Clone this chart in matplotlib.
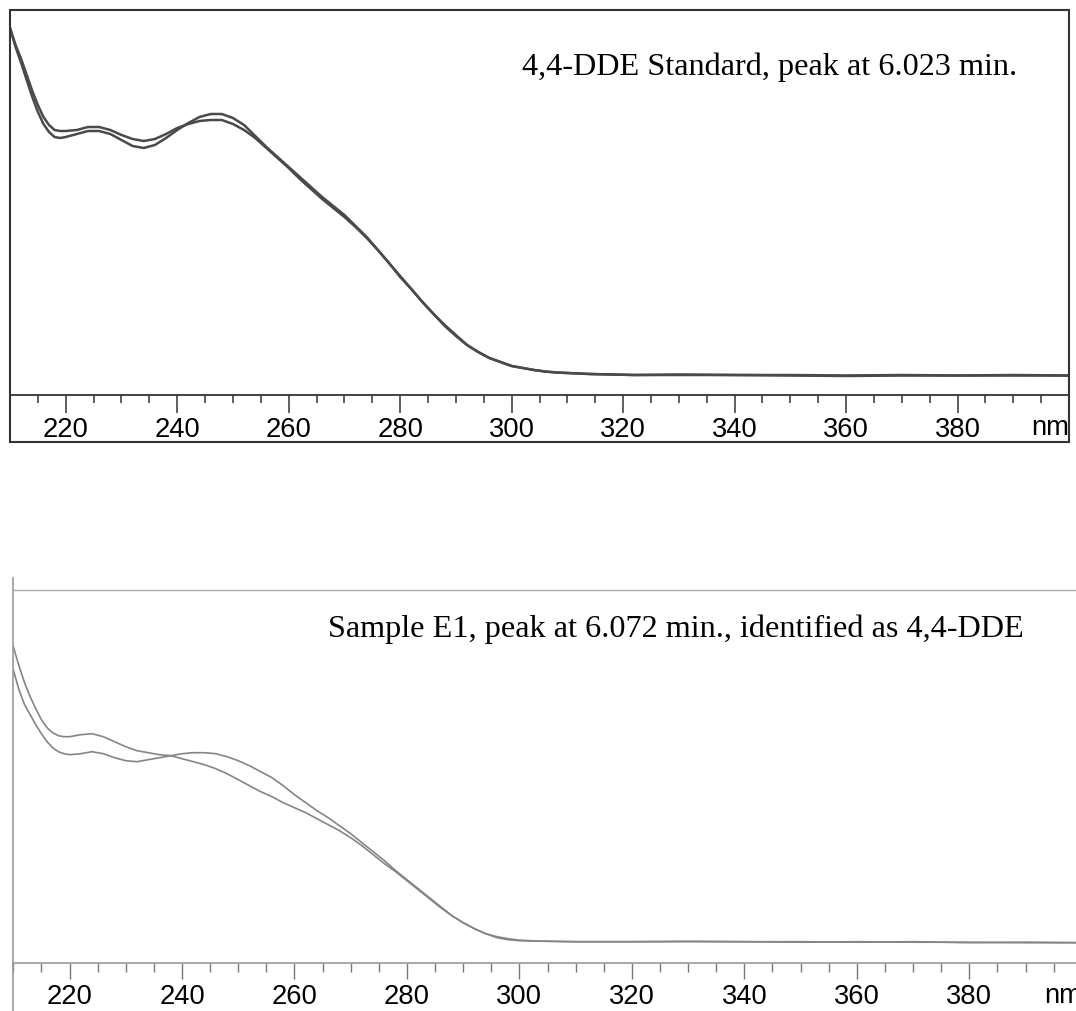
import matplotlib
matplotlib.use("Agg")
import matplotlib.pyplot as plt
from matplotlib.patches import Rectangle
from matplotlib.lines import Line2D
from matplotlib.ticker import MultipleLocator

# ---------------- data ----------------
std_wl = [210, 211, 212, 213, 214, 215, 216, 217, 218, 219, 220, 222, 224, 226, 228, 230,
          232, 234, 236, 238, 240, 242, 244, 246, 248, 250, 252, 254, 256, 258, 260, 262,
          264, 266, 268, 270, 272, 274, 276, 278, 280, 282, 284, 286, 288, 290, 292, 294,
          296, 298, 300, 302, 304, 306, 308, 310, 314, 318, 322, 330, 340, 350, 360, 370,
          380, 390, 400]
std_a = [367, 348, 332, 315, 298, 283, 271, 263, 258, 257, 258, 261, 264, 264, 261, 255,
         249, 247, 250, 257, 265, 272, 278, 281, 281, 277, 270, 259, 248, 238, 228, 218,
         208, 198, 189, 180, 169, 158, 145, 132, 118, 106, 93, 81, 70, 60, 50, 43,
         37, 33, 29, 27, 25, 23.5, 22.5, 22, 21, 20.5, 20, 20, 20, 19.5, 19, 19.5,
         19.5, 19.5, 19.5]
std_b = [367, 350, 336, 320, 304, 290, 278, 270, 265, 264, 264, 265, 268, 268, 265, 260,
         256, 254, 256, 261, 267, 271, 274, 275, 275, 271, 265, 257, 247, 237, 227, 216,
         206, 196, 187, 178, 168, 157, 145, 132, 119, 106, 93, 81, 69, 59, 50, 43,
         37, 33, 29, 27, 25, 23.5, 22.5, 22, 21, 20.5, 20, 20.5, 20, 20, 19.5, 20,
         19.5, 20, 19.5]

smp_wl = [210, 211, 212, 213, 214, 215, 216, 217, 218, 219, 220, 222, 224, 226, 228, 230,
          232, 234, 236, 238, 240, 242, 244, 246, 248, 250, 252, 254, 256, 258, 260, 262,
          264, 266, 268, 270, 272, 274, 276, 278, 280, 282, 284, 286, 288, 290, 292, 294,
          296, 298, 300, 304, 310, 320, 330, 340, 350, 360, 370, 380, 390, 400]
smp_c = [316, 297, 280, 266, 254, 243, 235, 230, 227, 226, 226, 228, 229, 226, 221, 216,
         212, 210, 208, 207, 204, 201, 198, 194, 189, 183, 177, 171, 166, 160, 155, 150,
         144, 138, 132, 125, 117, 108, 99, 91, 82, 73, 64, 55, 47, 40, 34, 29,
         25, 23, 22, 21.5, 21, 21, 21, 21, 20.5, 21, 20.5, 20.5, 20, 20]
smp_d = [293, 273, 258, 248, 238, 229, 221, 215, 211, 209, 208, 209, 211, 209, 205, 202,
         201, 203, 205, 207, 209, 210, 210, 209, 206, 202, 197, 191, 185, 177, 168, 160,
         152, 145, 137, 129, 120, 111, 102, 92, 83, 74, 65, 56, 47, 40, 34, 29,
         26, 24, 22.5, 21.5, 21, 21, 21.5, 21, 21, 20.5, 21, 20, 20.5, 20]

major_ticks = [220, 240, 260, 280, 300, 320, 340, 360, 380]
tick_labels = ["220", "240", "260", "280", "300", "320", "340", "360", "380"]
unit_label = "nm"
title_top = "4,4-DDE Standard, peak at 6.023 min."
title_bottom = "Sample E1, peak at 6.072 min., identified as 4,4-DDE"

# ---------------- figure ----------------
W, H = 1076, 1011
fig = plt.figure(figsize=(W / 100, H / 100), dpi=100)
fig.patch.set_facecolor("white")

def fx(px):
    return px / W

def fy(py):
    return 1 - py / H

tick_font = {"family": "Liberation Sans", "size": 19.7}
text_font = {"family": "Liberation Serif", "size": 23.2}

# ---- top panel ----
ax1 = fig.add_axes([fx(10), fy(395), (1069 - 10) / W, 385 / H])
ax1.plot(std_wl, std_a, color="#4a4a4a", lw=1.8, solid_joinstyle="round")
ax1.plot(std_wl, std_b, color="#4a4a4a", lw=1.8, solid_joinstyle="round")
ax1.set_xlim(210, 400)
ax1.set_ylim(0, 385)
ax1.set_yticks([])
for s in ("top", "left", "right"):
    ax1.spines[s].set_visible(False)
ax1.spines["bottom"].set_color("#333333")
ax1.spines["bottom"].set_linewidth(1.3)
ax1.set_xticks(major_ticks)
ax1.set_xticklabels(tick_labels, fontdict=tick_font)
ax1.xaxis.set_minor_locator(MultipleLocator(5))
ax1.tick_params(axis="x", which="major", direction="out", length=13, width=1.1,
                color="#333333", pad=3)
ax1.tick_params(axis="x", which="minor", direction="out", length=5.8, width=1.1,
                color="#333333")
ax1.text(1.0, -(428 - 395) / 385, unit_label, transform=ax1.transAxes, ha="right",
         va="center", fontdict=tick_font)
ax1.text((522 - 10) / 1059, (395 - 75) / 385, title_top, transform=ax1.transAxes,
         ha="left", va="baseline", fontdict=text_font)
fig.patches.append(Rectangle((fx(10), fy(442)), (1069 - 10) / W, (442 - 10) / H,
                             transform=fig.transFigure, fill=False,
                             edgecolor="#333333", lw=1.5))

# ---- bottom panel ----
ax2 = fig.add_axes([fx(13.3), fy(962.7), 1068.5 / W, 372.7 / H])
ax2.plot(smp_wl, smp_c, color="#858585", lw=1.2)
ax2.plot(smp_wl, smp_d, color="#858585", lw=1.2)
ax2.set_xlim(210, 400)
ax2.set_ylim(0, 372.7)
ax2.set_yticks([])
for s in ("top", "left", "right"):
    ax2.spines[s].set_visible(False)
ax2.spines["bottom"].set_color("#999999")
ax2.spines["bottom"].set_linewidth(1.2)
ax2.set_xticks(major_ticks)
ax2.set_xticklabels(tick_labels, fontdict=tick_font)
ax2.xaxis.set_minor_locator(MultipleLocator(5))
ax2.tick_params(axis="x", which="major", direction="out", length=11.5, width=1.0,
                color="#777777", pad=4)
ax2.tick_params(axis="x", which="minor", direction="out", length=6.5, width=1.0,
                color="#777777")
ax2.text(1.0, -(996 - 962.7) / 372.7, unit_label, transform=ax2.transAxes, ha="right",
         va="center", fontdict=tick_font)
ax2.text((328 - 13.3) / 1068.5, (962.7 - 637) / 372.7, title_bottom,
         transform=ax2.transAxes, ha="left", va="baseline", fontdict=text_font)
fig.lines.append(Line2D([fx(13.3), fx(13.3)], [fy(578), fy(1011)],
                        transform=fig.transFigure, color="#999999", lw=1.2))
fig.lines.append(Line2D([fx(13.3), fx(1076)], [fy(590), fy(590)],
                        transform=fig.transFigure, color="#aaaaaa", lw=1.0))

fig.savefig("out.png", dpi=100, facecolor="white")
